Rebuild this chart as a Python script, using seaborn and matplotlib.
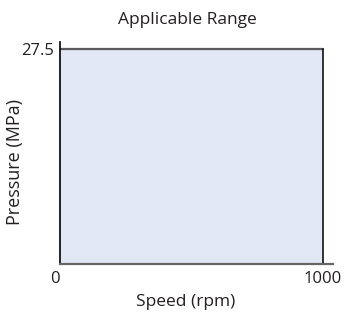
import matplotlib
matplotlib.use("Agg")
import matplotlib.pyplot as plt
import seaborn as sns

# applicable operating range
speed = [0, 1000]        # rpm
pressure = [0, 27.5]     # MPa
x_ticks = [0, 1000]
y_ticks = [27.5]

sns.set_style("white")
plt.rcParams['font.family'] = ['Open Sans', 'DejaVu Sans']

fig = plt.figure(figsize=(3.44, 3.18), dpi=100)
ax = fig.add_axes([60 / 344, (318 - 264) / 318, 273 / 344, 222 / 318])

ax.fill_between(speed, pressure[0], pressure[1], color="#e1e7f5", linewidth=0)
sns.lineplot(x=speed, y=[pressure[1]] * 2, ax=ax, color="#5a5a5a", linewidth=1.6,
             sort=False, estimator=None)
sns.lineplot(x=[speed[1]] * 2, y=pressure, ax=ax, color="#111111", linewidth=1.2,
             sort=False, estimator=None)

ax.set_xlim(0, 1038)
ax.set_ylim(0, 28.4)
ax.set_xticks(x_ticks)
ax.set_xticklabels(["0", "1000"], fontsize=12, color="#231f20")
ax.get_xticklabels()[0].set_ha("right")
ax.set_yticks(y_ticks)
ax.set_yticklabels(["27.5"], fontsize=12, color="#231f20")
ax.tick_params(axis="both", length=0)
ax.tick_params(axis="x", pad=5)
ax.tick_params(axis="y", pad=4)

for s in ["top", "right"]:
    ax.spines[s].set_visible(False)
ax.spines["left"].set_color("#000000")
ax.spines["left"].set_linewidth(1.2)
ax.spines["bottom"].set_color("#666666")
ax.spines["bottom"].set_linewidth(1.6)

ax.set_title("Applicable Range", fontsize=12.5, color="#231f20",
             x=(187 - 60) / 273, pad=13)
ax.set_xlabel("Speed (rpm)", fontsize=12.5, color="#231f20", va="center")
ax.set_ylabel("Pressure (MPa)", fontsize=13, color="#231f20", va="center")
ax.xaxis.set_label_coords((186 - 60) / 273, (264 - 302) / 222)
ax.yaxis.set_label_coords((15 - 60) / 273, (264 - 162) / 222)

plt.savefig("out.png", dpi=100)
